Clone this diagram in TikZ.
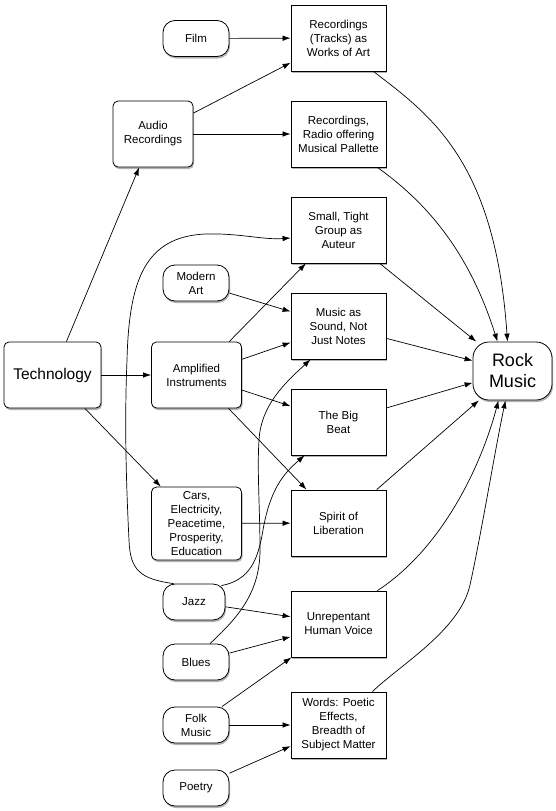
\documentclass[tikz,border=0pt]{standalone}
\usepackage{fontspec}
\setmainfont{Liberation Sans}
\usetikzlibrary{arrows.meta,shadows}
\begin{document}
\begin{tikzpicture}[x=1pt,y=-1pt,
  base/.style={draw, line width=0.8pt, fill=white, align=center, inner sep=0pt,
    font=\fontsize{11.5}{14}\selectfont,
    drop shadow={shadow xshift=1pt,shadow yshift=-2pt,fill=black,opacity=0.3}},
  box/.style={base, minimum width=95pt, minimum height=66pt},
  rbox/.style={base, rounded corners=5pt, minimum height=66pt},
  pill/.style={base, rounded corners=12pt, minimum width=66pt, minimum height=36pt},
  edge/.style={line width=0.7pt, -{Latex[length=8pt,width=5.5pt]}}]
\useasboundingbox (0,0) rectangle (556,811);
% nodes
\node[pill] (film) at (196,38.5) {Film};
\node[box] (tracks) at (338.5,38) {Recordings\\(Tracks) as\\Works of Art};
\node[rbox, minimum width=80pt] (audio) at (153,134) {Audio\\Recordings};
\node[box] (radio) at (338.5,134) {Recordings,\\Radio offering\\Musical Pallette};
\node[box] (small) at (338.5,230) {Small, Tight\\Group as\\Auteur};
\node[pill] (modern) at (196,283) {Modern\\Art};
\node[box] (music) at (338.5,326) {Music as\\Sound, Not\\Just Notes};
\node[rbox, minimum width=97pt, font=\fontsize{15.5}{18}\selectfont] (tech) at (52.5,375) {Technology};
\node[rbox, minimum width=90pt] (amp) at (196.5,375) {Amplified\\Instruments};
\node[pill, minimum width=79pt, minimum height=58pt, rounded corners=16pt,
  font=\fontsize{18}{21}\selectfont] (rock) at (512.5,371) {Rock\\Music};
\node[box] (bigbeat) at (338.5,422) {The Big\\Beat};
\node[rbox, minimum width=90pt, minimum height=73pt] (cars) at (196.5,523.5) {Cars,\\Electricity,\\Peacetime,\\Prosperity,\\Education};
\node[box] (spirit) at (338.5,523) {Spirit of\\Liberation};
\node[pill, minimum width=62pt] (jazz) at (194,602) {Jazz};
\node[box] (unrep) at (338.5,624) {Unrepentant\\Human Voice};
\node[pill] (blues) at (196,662) {Blues};
\node[pill] (folk) at (196,725) {Folk\\Music};
\node[box] (words) at (338.5,725) {Words: Poetic\\Effects,\\Breadth of\\Subject Matter};
\node[pill] (poetry) at (196,788) {Poetry};
% straight edges
\draw[edge] (film) -- (tracks);
\draw[edge] (audio) -- (tracks);
\draw[edge] (audio) -- (radio);
\draw[edge] (tech) -- (audio);
\draw[edge] (tech) -- (amp);
\draw[edge] (tech) -- (cars);
\draw[edge] (amp) -- (small);
\draw[edge] (amp) -- (music);
\draw[edge] (modern) -- (music);
\draw[edge] (amp) -- (bigbeat);
\draw[edge] (amp) -- (spirit);
\draw[edge] (cars) -- (spirit);
\draw[edge] (jazz) -- (unrep);
\draw[edge] (blues) -- (unrep);
\draw[edge] (folk) -- (unrep);
\draw[edge] (folk) -- (words);
\draw[edge] (poetry) -- (words);
\draw[edge] (small) -- (rock);
\draw[edge] (music) -- (rock);
\draw[edge] (bigbeat) -- (rock);
\draw[edge] (spirit) -- (rock);
% curved edges to Rock Music
\draw[edge] ([xshift=-13pt]tracks.south east) .. controls (430,115) and (495,160) .. ([xshift=-5pt]rock.north);
\draw[edge] ([xshift=-9pt]radio.south east) .. controls (430,205) and (470,255) .. ([xshift=-15pt]rock.north);
\draw[edge] ([xshift=-9pt]unrep.north east) .. controls (440,550) and (480,470) .. ([xshift=-14pt]rock.south);
\draw[edge] ([xshift=-14pt]words.north east) .. controls (400,665) and (460,630) .. (470,585)
  .. controls (482,530) and (495,450) .. ([xshift=-7pt]rock.south);
% curved edges from Jazz and Blues
\draw[edge] ([xshift=11pt]jazz.north west) .. controls (140,579) and (130,570) .. (129,540)
  .. controls (127,500) and (124,430) .. (127,360)
  .. controls (129,280) and (145,237) .. (205,234)
  .. controls (240,233) and (262,240) .. ([yshift=-8pt]small.west);
\draw[edge] ([xshift=-4pt,yshift=-2pt]jazz.north east) .. controls (250,580) and (258,560) .. (263,530)
  .. controls (270,490) and (283,474) .. ([xshift=14pt]bigbeat.south west);
\draw[edge] ([xshift=14pt]blues.north) .. controls (235,620) and (260,595) .. (260,550)
  .. controls (260,510) and (257,470) .. (259,440)
  .. controls (261,405) and (285,383) .. ([xshift=20pt]music.south west);
\end{tikzpicture}
\end{document}
